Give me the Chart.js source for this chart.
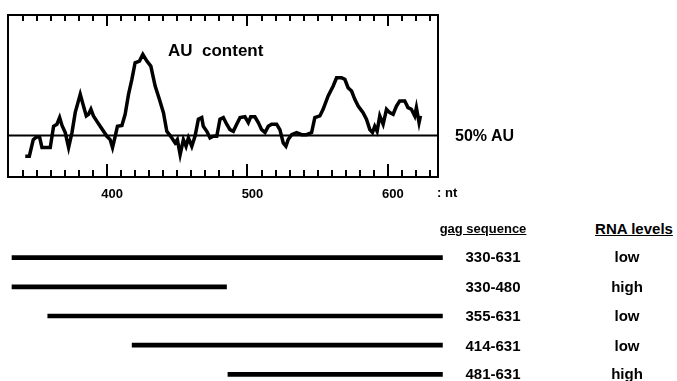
<!DOCTYPE html>
<html>
<head>
<meta charset="utf-8">
<script src="https://cdn.jsdelivr.net/npm/chart.js@4"></script>
<style>
  html, body { margin: 0; padding: 0; background: #fff; overflow: hidden; }
  body { width: 677px; height: 381px; position: relative; font-family: "Liberation Sans", Arial, sans-serif; font-weight: bold; color: #000; }
  #au { position: absolute; left: 0; top: 0; }
  #segs { position: absolute; left: 0; top: 243px; }
  .t { position: absolute; white-space: nowrap; font-size: 15px; line-height: 16px; }
  .c { transform: translateX(-50%); }
  .u { text-decoration: underline; }
</style>
</head>
<body>
<canvas id="au" width="677" height="206"></canvas>
<canvas id="segs" width="677" height="146"></canvas>
<div class="t" style="left:168px; top:42px; font-size:17px; line-height:18px;">AU&nbsp; content</div>
<div class="t" style="left:455px; top:128px; font-size:16px;">50% AU</div>
<div class="t" style="left:437px; top:185px; font-size:13px;">: nt</div>
<div id="table"></div>
<script>
"use strict";
// AU content trace (nucleotide position, % AU)
const positions = [341.6, 344.5, 347.3, 349.5, 351.8, 353.5, 359.4, 361.8, 364.2, 366.1,
  367.8, 370.1, 372.5, 374.9, 377.2, 380.8, 383.1, 385.1, 386.7, 388.4,
  390.2, 392.7, 395, 397.4, 399.8, 402.1, 403.8, 405.7, 407.3, 410.5,
  412.8, 415.2, 417.6, 419.9, 423, 425.4, 428.3, 431.1, 434.2, 437.2,
  440.1, 442.5, 445.3, 448.4, 450, 452, 454.3, 456.2, 457.9, 460.3,
  462.6, 465, 467.4, 468.5, 471, 473.3, 475.7, 478.1, 480.4, 482.8,
  485.2, 487.5, 489.9, 492.3, 494.7, 498.2, 500.6, 502.3, 505.3, 507.7,
  510.1, 512.5, 514.8, 517.2, 520.8, 523.1, 525.5, 527.4, 529, 531.5,
  535, 538.6, 542.1, 545.7, 548, 551.6, 553.9, 557.5, 561.1, 563.5,
  567, 569.4, 571.7, 574.2, 576.5, 578.9, 582.4, 584.8, 587.2, 589.1,
  590.7, 592.4, 594.3, 596.7, 599.1, 601.4, 603.8, 606.2, 608.5, 612.1,
  614.4, 616.8, 619.2, 620.4, 622.3, 623.3];
const auContent = [45.0, 45.0, 49.0, 49.6, 49.6, 47.1, 47.1, 52.2, 52.7, 54.3,
  52.4, 50.7, 47.1, 50.7, 55.5, 59.9, 57.1, 54.7, 55.1, 56.3,
  54.7, 53.4, 52.2, 51.0, 49.8, 49.0, 47.1, 49.8, 52.2, 52.4,
  55.1, 59.9, 63.5, 67.5, 67.9, 69.5, 67.9, 66.7, 61.9, 58.7,
  55.5, 51.0, 49.8, 48.2, 49.0, 45.4, 49.0, 47.4, 49.4, 47.4,
  49.8, 53.9, 54.3, 52.2, 51.0, 49.4, 49.8, 49.8, 53.9, 54.3,
  52.7, 51.4, 51.0, 52.7, 54.3, 54.5, 53.1, 54.5, 54.5, 53.1,
  51.4, 50.7, 52.2, 52.7, 52.7, 51.4, 48.2, 47.4, 49.0, 50.2,
  50.7, 50.2, 50.2, 50.7, 54.3, 54.7, 56.3, 59.5, 61.9, 63.9,
  63.9, 63.5, 61.5, 60.7, 58.7, 57.1, 55.5, 53.9, 51.4, 50.7,
  52.2, 51.0, 54.7, 52.7, 56.3, 55.5, 55.1, 57.1, 58.3, 58.3,
  56.7, 56.3, 54.7, 56.7, 53.1, 54.7];
const midline = 50;
const tickLabels = [400, 500, 600];

// constructs
const segLabels = ["330-631", "330-480", "355-631", "414-631", "481-631"];
const segRanges = [[330, 631], [330, 480], [355, 631], [414, 631], [481, 631]];
const rnaLevels = ["low", "high", "low", "low", "high"];

const X_MIN = 329.3, X_MAX = 635.8;

const framePlugin = {
  id: "frame",
  afterDatasetsDraw(chart) {
    const { ctx, chartArea: a, scales: { x } } = chart;
    ctx.save();
    ctx.strokeStyle = "#000";
    ctx.lineWidth = 2;
    ctx.strokeRect(a.left, a.top, a.right - a.left, a.bottom - a.top);
    ctx.beginPath();
    for (let v = 340; v <= 630; v += 10) {
      const px = Math.round(x.getPixelForValue(v));
      const major = v % 100 === 0;
      ctx.moveTo(px, a.top);
      ctx.lineTo(px, a.top + (major ? 11 : 6));
      ctx.moveTo(px, a.bottom);
      ctx.lineTo(px, a.bottom - (major ? 13 : 7));
    }
    ctx.stroke();
    ctx.restore();
  },
};

new Chart(document.getElementById("au"), {
  type: "line",
  data: {
    datasets: [
      {
        data: positions.map((p, i) => ({ x: p, y: auContent[i] })),
        borderColor: "#000",
        borderWidth: 3.5,
        pointRadius: 0,
        tension: 0,
      },
      {
        data: [{ x: X_MIN, y: midline }, { x: X_MAX, y: midline }],
        borderColor: "#000",
        borderWidth: 2,
        pointRadius: 0,
      },
    ],
  },
  options: {
    responsive: false,
    animation: false,
    layout: { padding: { left: 8, right: 239, top: 15, bottom: 0 } },
    plugins: { legend: { display: false }, tooltip: { enabled: false } },
    scales: {
      x: {
        type: "linear",
        min: X_MIN,
        max: X_MAX,
        grid: { display: false },
        border: { display: false },
        afterBuildTicks: (s) => { s.ticks = tickLabels.map((v) => ({ value: v })); },
        afterFit: (s) => { s.height = 29; },
        ticks: {
          padding: 2,
          labelOffset: 5,
          color: "#000",
          font: { family: "'Liberation Sans', Arial", size: 13, weight: "bold" },
        },
      },
      y: { type: "linear", min: 40, max: 79, display: false },
    },
  },
  plugins: [framePlugin],
});

new Chart(document.getElementById("segs"), {
  type: "bar",
  data: {
    labels: segLabels,
    datasets: [{ data: segRanges, backgroundColor: "#000", barThickness: 4, borderSkipped: false }],
  },
  options: {
    indexAxis: "y",
    responsive: false,
    animation: false,
    layout: { padding: 0 },
    plugins: { legend: { display: false }, tooltip: { enabled: false } },
    scales: {
      x: { type: "linear", min: 321.6, max: 321.6 + 677 / 1.43, display: false },
      y: { display: false },
    },
  },
});

// table of constructs
const table = document.getElementById("table");
const rowY = [249, 279, 308, 338, 366];
let html = '<div class="t c u" style="left:483px; top:221px; font-size:13px;">gag sequence</div>' +
  '<div class="t c u" style="left:634px; top:221px;">RNA levels</div>';
segLabels.forEach((s, i) => {
  html += `<div class="t c" style="left:493px; top:${rowY[i]}px;">${s}</div>`;
  html += `<div class="t c" style="left:627px; top:${rowY[i]}px;">${rnaLevels[i]}</div>`;
});
table.innerHTML = html;
</script>
</body>
</html>
